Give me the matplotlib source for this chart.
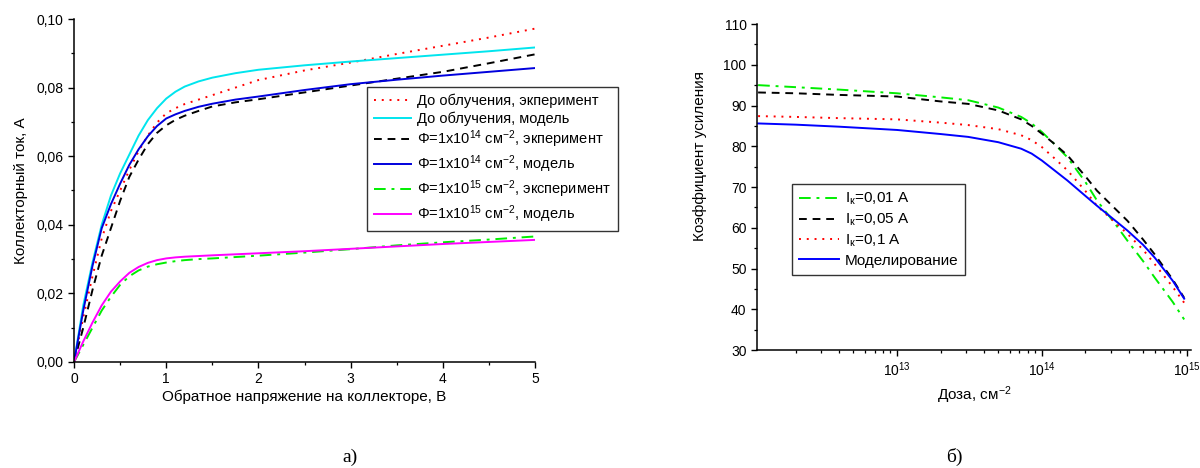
import numpy as np
import matplotlib
matplotlib.use('Agg')
import matplotlib.pyplot as plt
from matplotlib.ticker import FuncFormatter, MultipleLocator

plt.rcParams['font.family'] = ['Liberation Sans', 'DejaVu Sans']
plt.rcParams['mathtext.fontset'] = 'custom'
plt.rcParams['mathtext.rm'] = 'Liberation Sans'
plt.rcParams['mathtext.it'] = 'Liberation Sans:italic'
plt.rcParams['mathtext.default'] = 'regular'

# а) ВАХ коллектора
voltage = [0, 0.1, 0.2, 0.3, 0.4, 0.5, 0.6, 0.7, 0.8, 0.9, 1.0, 1.1, 1.2, 1.35, 1.5, 1.75,
           2.0, 2.5, 3.0, 3.5, 4.0, 4.5, 5.0]
i_before_exp = [0, 0.013, 0.025, 0.036, 0.044, 0.050, 0.056, 0.0615, 0.066, 0.0698, 0.0725, 0.0740,
                0.0752, 0.0765, 0.0778, 0.080, 0.0822, 0.085, 0.0873, 0.0898, 0.0922, 0.0946, 0.0972]
i_before_mod = [0, 0.0165, 0.029, 0.040, 0.0485, 0.055, 0.0605, 0.066, 0.0705, 0.074, 0.0768, 0.0788,
                0.0803, 0.0818, 0.0829, 0.0842, 0.0852, 0.0865, 0.0876, 0.0886, 0.0896, 0.0906, 0.0917]
i_e14_exp = [0, 0.010, 0.021, 0.031, 0.039, 0.047, 0.054, 0.059, 0.0635, 0.0668, 0.069, 0.0706,
             0.0718, 0.0732, 0.0745, 0.0757, 0.0766, 0.0786, 0.0806, 0.0826, 0.0846, 0.0871, 0.0897]
i_e14_mod = [0, 0.015, 0.028, 0.039, 0.046, 0.052, 0.0575, 0.062, 0.0658, 0.0688, 0.071, 0.0722,
             0.0732, 0.0744, 0.0753, 0.0765, 0.0774, 0.0793, 0.081, 0.0823, 0.0835, 0.0846, 0.0857]
i_e15_exp = [0, 0.005, 0.010, 0.015, 0.019, 0.0225, 0.025, 0.0267, 0.0278, 0.0285, 0.029, 0.0294,
             0.0297, 0.0300, 0.0302, 0.0306, 0.031, 0.0319, 0.0329, 0.034, 0.0349, 0.0357, 0.0366]
i_e15_mod = [0, 0.006, 0.0115, 0.0165, 0.0205, 0.0235, 0.026, 0.0277, 0.0289, 0.0297, 0.0302, 0.0305,
             0.0307, 0.0309, 0.0311, 0.0314, 0.0317, 0.0323, 0.033, 0.0337, 0.0344, 0.035, 0.0356]

# б) коэффициент усиления от дозы
dose = [1.1e12, 2e12, 4e12, 1e13, 2e13, 3.1e13, 5e13, 7.2e13, 8.5e13, 1e14, 1.2e14, 1.5e14,
        2e14, 2.4e14, 3.2e14, 3.9e14, 5e14, 6e14, 8e14, 9.6e14]
gain_001 = [95.0, 94.5, 93.9, 93.0, 92.0, 91.3, 89.5, 87.2, 85.6, 83.5, 80.8, 77.3,
            71.2, 66.7, 61.0, 56.8, 51.8, 47.8, 41.8, 37.5]
gain_005 = [93.2, 93.0, 92.6, 92.2, 91.0, 90.4, 88.8, 86.6, 85.0, 83.1, 80.8, 77.8,
            72.6, 69.1, 64.7, 61.7, 57.1, 53.5, 47.3, 42.8]
gain_01 = [87.4, 87.2, 86.9, 86.6, 85.8, 85.2, 84.2, 82.7, 81.5, 79.8, 77.3, 74.1,
           69.0, 65.4, 61.3, 58.5, 54.6, 51.1, 45.5, 41.6]
gain_model = [85.6, 85.3, 84.8, 84.0, 83.0, 82.3, 81.0, 79.4, 78.2, 76.5, 74.3, 71.6,
              67.8, 65.4, 61.8, 59.3, 55.8, 52.7, 47.0, 42.6]

fig = plt.figure(figsize=(12, 4.68), dpi=100)
ax1 = fig.add_axes([0.0617, 0.2265, 0.3842, 0.7329])
ax2 = fig.add_axes([0.6308, 0.2521, 0.3617, 0.6966])

lw = 1.4
dot = (0, (1, 3))
dash = (0, (4, 3))
dashdot = (0, (6, 3, 1.5, 3))

ax1.plot(voltage, i_before_exp, color='#ff0000', ls=dot, lw=lw, label='До облучения, экперимент')
ax1.plot(voltage, i_before_mod, color='#00e5ee', lw=lw, label='До облучения, модель')
ax1.plot(voltage, i_e14_exp, color='black', ls=dash, lw=lw,
         label='Φ=1x10$^{14}$ см$^{-2}$, экперимент')
ax1.plot(voltage, i_e14_mod, color='#0000dd', lw=lw, label='Φ=1x10$^{14}$ см$^{-2}$, модель')
ax1.plot(voltage, i_e15_exp, color='#00ee00', ls=dashdot, lw=lw,
         label='Φ=1x10$^{15}$ см$^{-2}$, эксперимент')
ax1.plot(voltage, i_e15_mod, color='#ff00ff', lw=lw, label='Φ=1x10$^{15}$ см$^{-2}$, модель')

ax1.set_xlim(0, 5)
ax1.set_ylim(0, 0.10)
ax1.xaxis.set_major_locator(MultipleLocator(1))
ax1.xaxis.set_minor_locator(MultipleLocator(0.5))
ax1.yaxis.set_major_locator(MultipleLocator(0.02))
ax1.yaxis.set_minor_locator(MultipleLocator(0.01))
ax1.yaxis.set_major_formatter(FuncFormatter(lambda v, p: f'{v:.2f}'.replace('.', ',')))
ax1.set_xlabel('Обратное напряжение на коллекторе, В', fontsize=11, labelpad=2)
ax1.set_ylabel('Коллекторный ток, А', fontsize=11, labelpad=6)
leg1 = ax1.legend(loc='upper left', bbox_to_anchor=(367 / 1200, 1 - 87 / 468),
                  bbox_transform=fig.transFigure, fontsize=10.5, fancybox=False,
                  edgecolor='#333333', framealpha=1, handlelength=2.6, borderaxespad=0,
                  labelspacing=0.22, borderpad=0.45, handletextpad=0.4)
leg1.get_frame().set_linewidth(1.0)

ax2.plot(dose, gain_001, color='#00ee00', ls=dashdot, lw=lw, label='I$_к$=0,01 А')
ax2.plot(dose, gain_005, color='black', ls=dash, lw=lw, label='I$_к$=0,05 А')
ax2.plot(dose, gain_01, color='#ff0000', ls=dot, lw=lw, label='I$_к$=0,1 А')
ax2.plot(dose, gain_model, color='#0000ff', lw=lw, label='Моделирование')
ax2.set_xscale('log')
ax2.set_xlim(1.08e12, 1.07e15)
ax2.set_ylim(30, 110)
ax2.yaxis.set_major_locator(MultipleLocator(10))
ax2.yaxis.set_minor_locator(MultipleLocator(5))
ax2.set_xlabel('Доза, см$^{-2}$', fontsize=11, labelpad=4)
ax2.set_ylabel('Коэффициент усиления', fontsize=11)
ax2.yaxis.set_label_coords(-0.115, 0.595)
leg2 = ax2.legend(loc='upper left', bbox_to_anchor=(792 / 1200, 1 - 184 / 468),
                  bbox_transform=fig.transFigure, fontsize=11, fancybox=False,
                  edgecolor='#333333', framealpha=1, handlelength=2.6, borderaxespad=0,
                  labelspacing=0.3, borderpad=0.45, handletextpad=0.4)
leg2.get_frame().set_linewidth(1.0)

for ax in (ax1, ax2):
    for s in ('top', 'right'):
        ax.spines[s].set_visible(False)
    for s in ('left', 'bottom'):
        ax.spines[s].set_linewidth(1.1)
    ax.tick_params(which='major', direction='out', length=4, width=1.0, labelsize=10)
    ax.tick_params(which='minor', direction='out', length=2.5, width=0.9)

fig.text(350 / 1200, 1 - 457 / 468, 'а)', fontsize=14, family='Liberation Serif', ha='center', va='center')
fig.text(954 / 1200, 1 - 457 / 468, 'б)', fontsize=14, family='Liberation Serif', ha='center', va='center')

fig.savefig('out.png', dpi=100)
